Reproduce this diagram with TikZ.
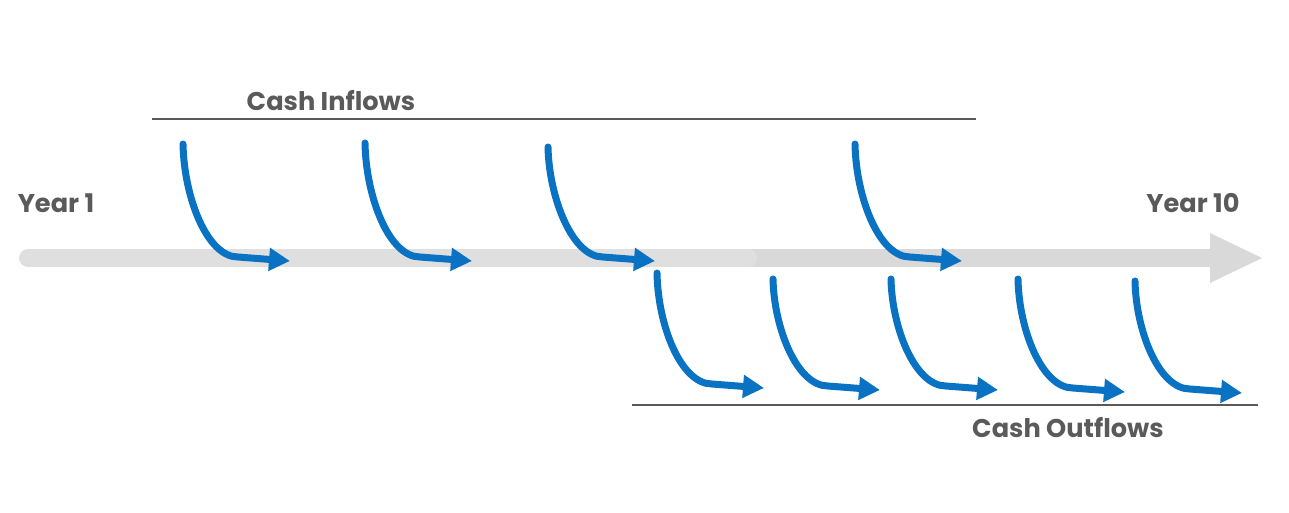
\documentclass[tikz,border=0pt]{standalone}
\usepackage{fontspec}
\setmainfont{Poppins}
\usetikzlibrary{arrows.meta,positioning}
\definecolor{flowblue}{HTML}{0A72C2}
\definecolor{labgray}{HTML}{5A5A5A}
\definecolor{axisgray}{HTML}{D9D9D9}
\definecolor{axislight}{HTML}{DFDFDF}
\tikzset{
  lab/.style={font=\bfseries\fontsize{14.6}{16}\selectfont, text=labgray, inner sep=0pt},
  bar/.style={draw=labgray, line width=1.3pt},
  flow/.style={draw=flowblue, line width=0.14cm, line cap=round,
               -{Triangle[length=0.42cm,width=0.44cm]}},
}

\begin{document}
\begin{tikzpicture}[x=0.02cm, y=-0.02cm]
\useasboundingbox (0,0) rectangle (1289,512);

% time axis
\coordinate (tstart) at (28,258);
\coordinate (tmid) at (748,258);
\coordinate (tend) at (1212,258);
\coordinate (ttip) at (1262,258);
\draw[axisgray, line width=0.36cm] (740,258) -- (tend);
\fill[axisgray] (1210,233) -- (ttip) -- (1210,283) -- cycle;
\draw[axislight, line width=0.36cm, line cap=round] (tstart) -- (tmid);

\node[lab] (y1) at (56,203) {Year 1};
\node[lab] (y10) at (1193,203) {Year 10};

% brackets
\coordinate (inl) at (152,119);
\coordinate (inr) at (976,119);
\draw[bar] (inl) -- (inr);
\node[lab] (inflow) at (331,101) {Cash Inflows};

\coordinate (outl) at (632,405);
\coordinate (outr) at (1258,405);
\draw[bar] (outl) -- (outr);
\node[lab] (outflow) at (1068,428) {Cash Outflows};

% inflows
\foreach \x/\y in {183/144, 365/143, 548/147, 855/144} {
  \coordinate (s) at (\x,\y);
  \coordinate (t) at (\x+107,261);
  \draw[flow] (s) .. controls (\x+1,197) and (\x+24,257) .. (\x+55,257) -- (t);
}

% outflows
\foreach \x/\y/\e in {657/273/388, 773/279/390, 891/279/390, 1018/279/392, 1135/281/393} {
  \coordinate (s) at (\x,\y);
  \coordinate (t) at (\x+107,\e);
  \draw[flow] (s) .. controls (\x+1,\e-62) and (\x+24,\e-4) .. (\x+55,\e-4) -- (t);
}

\end{tikzpicture}
\end{document}
